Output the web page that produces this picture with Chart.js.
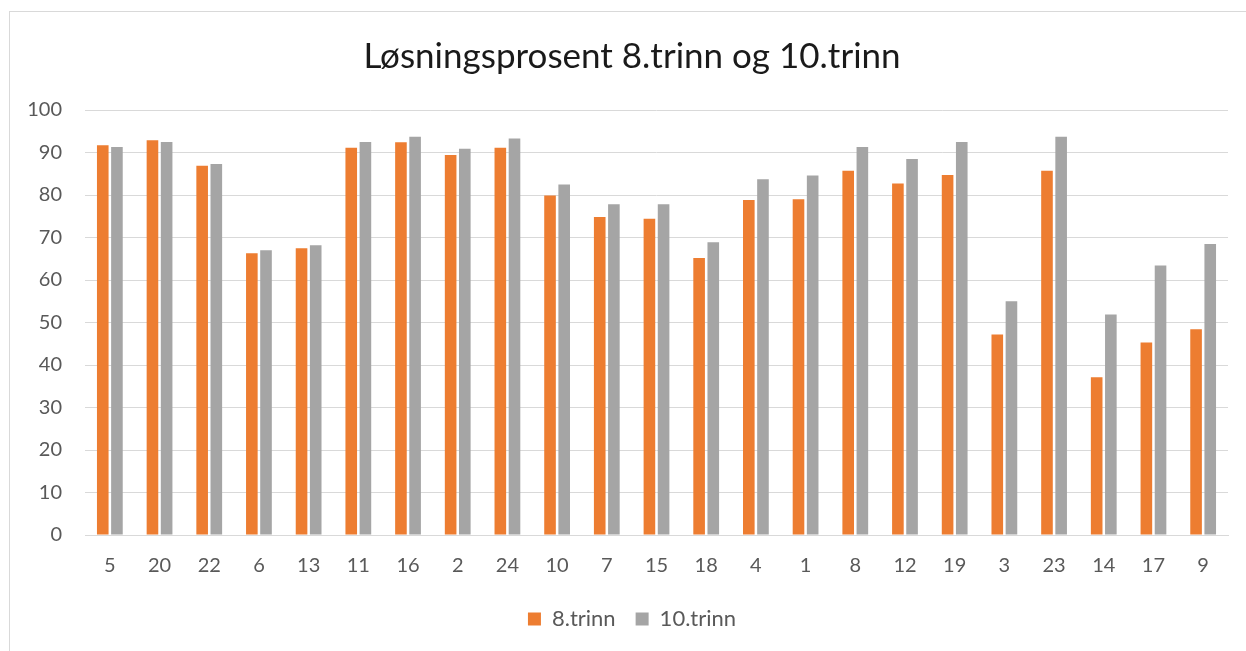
<!DOCTYPE html>
<html lang="no">
<head>
<meta charset="utf-8">
<title>Løsningsprosent 8.trinn og 10.trinn</title>
<script src="https://cdn.jsdelivr.net/npm/chart.js@4/dist/chart.umd.min.js"></script>
<style>
  html, body { margin: 0; padding: 0; background: #ffffff; overflow: hidden; }
  #wrap { position: relative; width: 1246px; height: 651px; overflow: hidden; }
  #frame {
    position: absolute; left: 9px; top: 11px; width: 1300px; height: 700px;
    border: 1px solid #d9d9d9; box-sizing: border-box; pointer-events: none;
  }
  canvas { position: absolute; left: 0; top: 0; }
</style>
</head>
<body>
<div id="wrap">
  <div id="frame"></div>
  <canvas id="chart" width="1264" height="651"></canvas>
</div>
<script>
// Oppgavenummer, sortert slik de vises langs x-aksen
const oppgaver = ['5', '20', '22', '6', '13', '11', '16', '2', '24', '10', '7', '15',
                  '18', '4', '1', '8', '12', '19', '3', '23', '14', '17', '9'];

// Løsningsprosent per oppgave
const trinn8 = [91.7, 92.9, 86.9, 66.3, 67.5, 91.1, 92.4, 89.4, 91.1, 79.9, 74.8, 74.4,
                65.2, 78.8, 79.0, 85.7, 82.7, 84.7, 47.2, 85.7, 37.1, 45.3, 48.4];
const trinn10 = [91.3, 92.5, 87.3, 67.0, 68.2, 92.5, 93.7, 90.9, 93.3, 82.5, 77.8, 77.8,
                 68.9, 83.7, 84.6, 91.3, 88.5, 92.5, 55.0, 93.7, 51.9, 63.4, 68.5];

const yTicks = [0, 10, 20, 30, 40, 50, 60, 70, 80, 90, 100];

const FONT = 'Lato, "Open Sans", sans-serif';

new Chart(document.getElementById('chart'), {
  type: 'bar',
  data: {
    labels: oppgaver,
    datasets: [
      { label: '8.trinn', data: trinn8, backgroundColor: '#ED7D31' },
      { label: '10.trinn', data: trinn10, backgroundColor: '#A5A5A5' }
    ]
  },
  options: {
    responsive: false,
    animation: false,
    devicePixelRatio: 1,
    layout: { padding: { left: 0, right: 0, top: 0, bottom: 11 } },
    datasets: {
      bar: { categoryPercentage: 0.57, barPercentage: 0.82 }
    },
    plugins: {
      title: {
        display: true,
        text: 'Løsningsprosent 8.trinn og 10.trinn',
        color: '#1a1a1a',
        font: { family: FONT, size: 35, weight: 'normal' },
        padding: { top: 36, bottom: 32 }
      },
      legend: {
        position: 'bottom',
        labels: {
          color: '#595959',
          font: { family: FONT, size: 22 },
          boxWidth: 13,
          boxHeight: 13,
          padding: 20
        }
      },
      tooltip: { enabled: false }
    },
    scales: {
      x: {
        afterFit: (s) => { s.height = 53; },
        grid: { display: false, drawTicks: false },
        border: { display: true, color: '#d9d9d9', width: 1 },
        ticks: {
          color: '#595959',
          font: { family: FONT, size: 20 },
          padding: 19,
          maxRotation: 0,
          autoSkip: false
        }
      },
      y: {
        min: 0,
        max: 100,
        afterFit: (s) => { s.width = 85; },
        afterBuildTicks: (s) => { s.ticks = yTicks.map(v => ({ value: v })); },
        grid: { color: '#d9d9d9', lineWidth: 1, drawTicks: false },
        border: { display: false },
        ticks: {
          color: '#595959',
          font: { family: FONT, size: 20 },
          padding: 23
        }
      },
      // tom høyremarg: holder plottet inne mens tittel og forklaring spenner hele bredden
      margin: {
        type: 'linear',
        position: 'right',
        min: 0,
        max: 100,
        afterFit: (s) => { s.width = 36; },
        grid: { display: false, drawTicks: false },
        border: { display: false },
        ticks: { display: false }
      }
    }
  }
});
</script>
</body>
</html>
